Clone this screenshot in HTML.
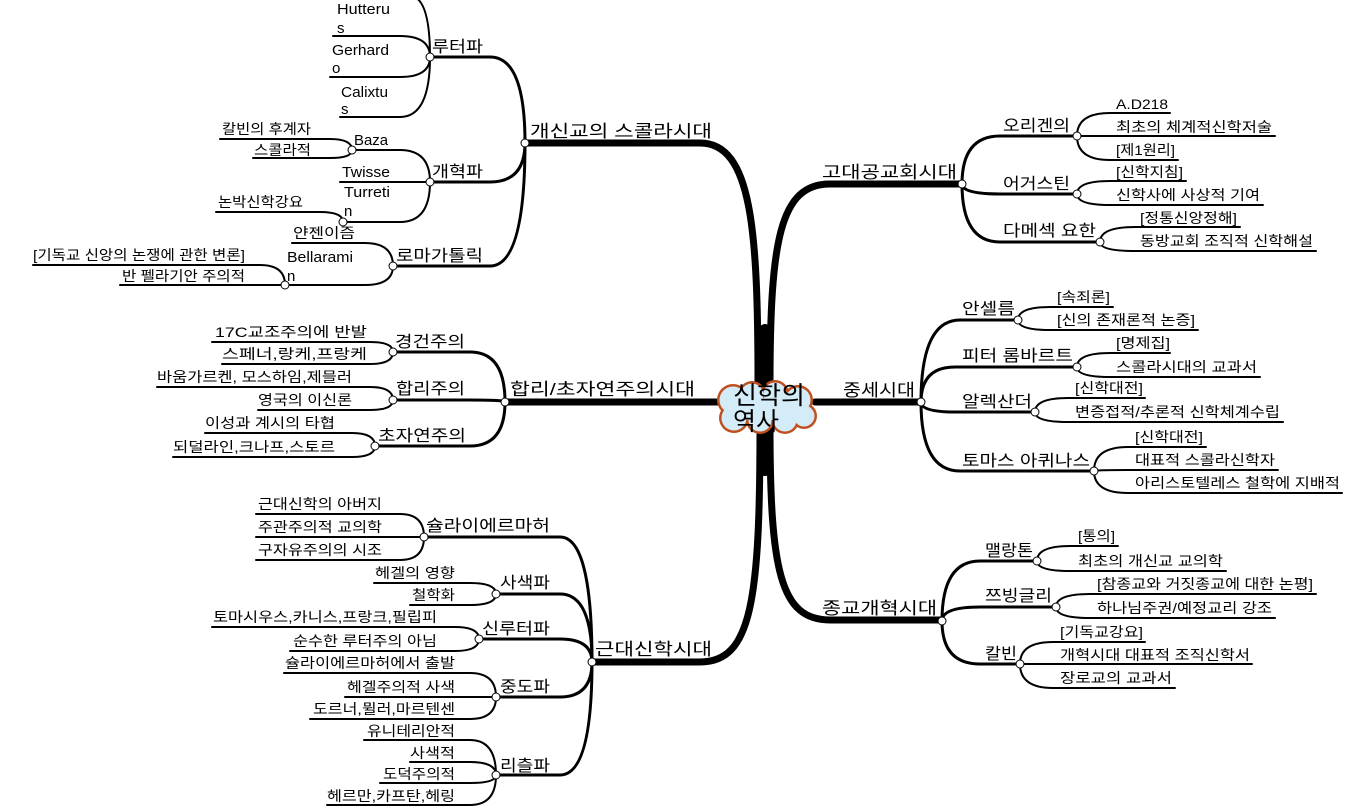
<!DOCTYPE html>
<html><head><meta charset="utf-8"><style>
html,body{margin:0;padding:0;background:#fff;}
svg{display:block;}
text{font-family:"Liberation Sans","Noto Sans CJK KR","NanumGothic",sans-serif;fill:#000;}
.l{font-size:14px;}
.e{font-size:15px;}
.s{font-size:16px;}
.m{font-size:17px;}
path{fill:none;stroke:#000;stroke-linecap:round;}
.t{stroke-width:7;}
.b{stroke-width:3;}
.f{stroke-width:2;}
circle.n{fill:#fff;stroke:#000;stroke-width:1;}
</style></head><body>
<svg width="1368" height="808" viewBox="0 0 1368 808" xmlns="http://www.w3.org/2000/svg">
<path class="t" d="M758 385 C758 230 752 143 700 143 L525 143"/>
<path class="t" d="M770 385 C770 240 780 184 830 184 L962 184"/>
<path class="t" d="M760 425 C760 600 752 662 700 662 L592 662"/>
<path class="t" d="M770 425 C770 570 780 620 830 620 L942 620"/>
<path class="t" d="M718 402 L505 402"/>
<path class="t" d="M815 402 L921 402"/>
<path d="M765 330 L765 470" style="stroke-width:12"/>

<path class="b" d="M525 143 Q525 57 490 57 L430 57"/>
<path class="b" d="M525 143 Q525 182 490 182 L430 182"/>
<path class="b" d="M525 143 Q525 266 490 266 L393 266"/>
<path class="f" d="M430 57 Q430 0 412 -4"/>
<path class="f" d="M430 57 Q430 36 400 36 L333 36"/>
<path class="f" d="M430 57 Q430 77 400 77 L330 77"/>
<path class="f" d="M430 57 Q430 117 400 117 L340 117"/>
<path class="f" d="M430 182 Q430 150 400 150 L352 150"/>
<path class="f" d="M430 182 L340 182"/>
<path class="f" d="M430 182 Q430 222 400 222 L343 222"/>
<path class="f" d="M352 150 Q352 139 330 139 L220 139"/>
<path class="f" d="M352 150 Q352 158 330 158 L253 158"/>
<path class="f" d="M343 222 Q343 212 320 212 L216 212"/>
<path class="f" d="M393 266 Q393 243 365 243 L292 243"/>
<path class="f" d="M393 266 Q393 285 365 285 L285 285"/>
<path class="f" d="M285 285 Q285 265 260 265 L33 265"/>
<path class="f" d="M285 285 L120 285"/>

<path class="b" d="M505 402 Q505 352 470 352 L393 352"/>
<path class="b" d="M505 402 Q505 400 470 400 L393 400"/>
<path class="b" d="M505 402 Q505 446 470 446 L375 446"/>
<path class="f" d="M393 352 Q393 342 370 342 L212 342"/>
<path class="f" d="M393 352 Q393 364 370 364 L222 364"/>
<path class="f" d="M393 400 Q393 387 370 387 L157 387"/>
<path class="f" d="M393 400 Q393 410 370 410 L258 410"/>
<path class="f" d="M375 446 Q375 433 352 433 L205 433"/>
<path class="f" d="M375 446 Q375 457 352 457 L173 457"/>

<path class="b" d="M592 662 Q592 537 560 537 L424 537"/>
<path class="b" d="M592 662 Q592 594 560 594 L496 594"/>
<path class="b" d="M592 662 Q592 639 560 639 L479 639"/>
<path class="b" d="M592 662 Q592 697 560 697 L496 697"/>
<path class="b" d="M592 662 Q592 775 560 775 L496 775"/>
<path class="f" d="M424 537 Q424 514 400 514 L256 514"/>
<path class="f" d="M424 537 L256 537"/>
<path class="f" d="M424 537 Q424 560 400 560 L256 560"/>
<path class="f" d="M496 594 Q496 583 470 583 L374 583"/>
<path class="f" d="M496 594 Q496 605 470 605 L410 605"/>
<path class="f" d="M479 639 Q479 627 455 627 L212 627"/>
<path class="f" d="M479 639 Q479 651 455 651 L290 651"/>
<path class="f" d="M496 697 Q496 673 470 673 L284 673"/>
<path class="f" d="M496 697 L345 697"/>
<path class="f" d="M496 697 Q496 719 470 719 L310 719"/>
<path class="f" d="M496 775 Q496 740 470 740 L364 740"/>
<path class="f" d="M496 775 Q496 762 470 762 L410 762"/>
<path class="f" d="M496 775 Q496 783 470 783 L380 783"/>
<path class="f" d="M496 775 Q496 805 470 805 L327 805"/>

<path class="b" d="M962 184 Q962 136 1000 136 L1077 136"/>
<path class="b" d="M962 184 Q962 194 1000 194 L1077 194"/>
<path class="b" d="M962 184 Q962 242 1000 242 L1100 242"/>
<path class="f" d="M1077 136 Q1077 113 1110 113 L1170 113"/>
<path class="f" d="M1077 136 L1275 136"/>
<path class="f" d="M1077 136 Q1077 160 1110 160 L1178 160"/>
<path class="f" d="M1077 194 Q1077 181 1110 181 L1186 181"/>
<path class="f" d="M1077 194 Q1077 205 1110 205 L1263 205"/>
<path class="f" d="M1100 242 Q1100 227 1135 227 L1240 227"/>
<path class="f" d="M1100 242 Q1100 251 1135 251 L1316 251"/>

<path class="b" d="M921 402 Q921 320 960 320 L1018 320"/>
<path class="b" d="M921 402 Q921 367 955 367 L1077 367"/>
<path class="b" d="M921 402 Q921 412 955 412 L1035 412"/>
<path class="b" d="M921 402 Q921 471 960 471 L1094 471"/>
<path class="f" d="M1018 320 Q1018 307 1050 307 L1113 307"/>
<path class="f" d="M1018 320 Q1018 330 1050 330 L1198 330"/>
<path class="f" d="M1077 367 Q1077 353 1110 353 L1170 353"/>
<path class="f" d="M1077 367 Q1077 377 1110 377 L1260 377"/>
<path class="f" d="M1035 412 Q1035 398 1068 398 L1145 398"/>
<path class="f" d="M1035 412 Q1035 422 1068 422 L1283 422"/>
<path class="f" d="M1094 471 Q1094 447 1128 447 L1206 447"/>
<path class="f" d="M1094 471 Q1094 470 1128 470 L1278 470"/>
<path class="f" d="M1094 471 Q1094 493 1128 493 L1342 493"/>

<path class="b" d="M942 621 Q942 561 980 561 L1037 561"/>
<path class="b" d="M942 621 Q942 607 980 607 L1056 607"/>
<path class="b" d="M942 621 Q942 664 980 664 L1020 664"/>
<path class="f" d="M1037 561 Q1037 546 1070 546 L1118 546"/>
<path class="f" d="M1037 561 Q1037 571 1070 571 L1226 571"/>
<path class="f" d="M1056 607 Q1056 594 1090 594 L1316 594"/>
<path class="f" d="M1056 607 Q1056 618 1090 618 L1275 618"/>
<path class="f" d="M1020 664 Q1020 642 1053 642 L1145 642"/>
<path class="f" d="M1020 664 L1252 664"/>
<path class="f" d="M1020 664 Q1020 688 1053 688 L1175 688"/>

<g>
<circle class="n" cx="525" cy="143" r="4"/><circle class="n" cx="430" cy="57" r="4"/><circle class="n" cx="430" cy="182" r="4"/>
<circle class="n" cx="393" cy="266" r="4"/><circle class="n" cx="352" cy="150" r="4"/><circle class="n" cx="343" cy="222" r="4"/>
<circle class="n" cx="285" cy="285" r="4"/>
<circle class="n" cx="505" cy="402" r="4"/><circle class="n" cx="393" cy="352" r="4"/><circle class="n" cx="393" cy="400" r="4"/><circle class="n" cx="375" cy="446" r="4"/>
<circle class="n" cx="592" cy="662" r="4"/><circle class="n" cx="424" cy="537" r="4"/><circle class="n" cx="496" cy="594" r="4"/><circle class="n" cx="479" cy="639" r="4"/><circle class="n" cx="496" cy="697" r="4"/><circle class="n" cx="496" cy="775" r="4"/>
<circle class="n" cx="962" cy="184" r="4"/><circle class="n" cx="1077" cy="136" r="4"/><circle class="n" cx="1077" cy="194" r="4"/><circle class="n" cx="1100" cy="242" r="4"/>
<circle class="n" cx="921" cy="402" r="4"/><circle class="n" cx="1018" cy="320" r="4"/><circle class="n" cx="1077" cy="367" r="4"/><circle class="n" cx="1035" cy="412" r="4"/><circle class="n" cx="1094" cy="471" r="4"/>
<circle class="n" cx="942" cy="621" r="4"/><circle class="n" cx="1037" cy="561" r="4"/><circle class="n" cx="1056" cy="607" r="4"/><circle class="n" cx="1020" cy="664" r="4"/>
</g>

<g>
<g fill="#c0501f">
<circle cx="733" cy="400" r="16"/><circle cx="752" cy="395" r="14"/><circle cx="775" cy="394" r="14"/><circle cx="798" cy="400" r="15"/>
<circle cx="734" cy="418" r="15"/><circle cx="760" cy="420" r="14"/><circle cx="785" cy="420" r="14"/><circle cx="804" cy="416" r="13"/>
</g>
<g fill="#d3ecf8">
<circle cx="733" cy="400" r="13.5"/><circle cx="752" cy="395" r="11.5"/><circle cx="775" cy="394" r="11.5"/><circle cx="798" cy="400" r="12.5"/>
<circle cx="734" cy="418" r="12.5"/><circle cx="760" cy="420" r="11.5"/><circle cx="785" cy="420" r="11.5"/><circle cx="804" cy="416" r="10.5"/>
<rect x="735" y="398" width="70" height="22"/>
</g>
<text x="733" y="404" style="font-size:25px" textLength="72" lengthAdjust="spacingAndGlyphs">신학의</text>
<text x="733" y="430" style="font-size:25px" textLength="46" lengthAdjust="spacingAndGlyphs">역사</text>
</g>

<text class="m" x="530" y="137" textLength="182" lengthAdjust="spacingAndGlyphs">개신교의 스콜라시대</text>
<text class="m" x="510" y="395" textLength="185" lengthAdjust="spacingAndGlyphs">합리/초자연주의시대</text>
<text class="m" x="595" y="655" textLength="117" lengthAdjust="spacingAndGlyphs">근대신학시대</text>
<text class="m" x="822" y="178" textLength="135" lengthAdjust="spacingAndGlyphs">고대공교회시대</text>
<text class="m" x="843" y="396" textLength="72" lengthAdjust="spacingAndGlyphs">중세시대</text>
<text class="m" x="822" y="614" textLength="115" lengthAdjust="spacingAndGlyphs">종교개혁시대</text>

<text class="s" x="432" y="52" textLength="51" lengthAdjust="spacingAndGlyphs">루터파</text>
<text class="s" x="432" y="177" textLength="51" lengthAdjust="spacingAndGlyphs">개혁파</text>
<text class="s" x="396" y="261" textLength="87" lengthAdjust="spacingAndGlyphs">로마가톨릭</text>
<text class="s" x="395" y="347" textLength="70" lengthAdjust="spacingAndGlyphs">경건주의</text>
<text class="s" x="396" y="394" textLength="69" lengthAdjust="spacingAndGlyphs">합리주의</text>
<text class="s" x="378" y="441" textLength="88" lengthAdjust="spacingAndGlyphs">초자연주의</text>
<text class="s" x="426" y="531" textLength="124" lengthAdjust="spacingAndGlyphs">슐라이에르마허</text>
<text class="s" x="500" y="588" textLength="50" lengthAdjust="spacingAndGlyphs">사색파</text>
<text class="s" x="482" y="634" textLength="68" lengthAdjust="spacingAndGlyphs">신루터파</text>
<text class="s" x="500" y="692" textLength="50" lengthAdjust="spacingAndGlyphs">중도파</text>
<text class="s" x="500" y="771" textLength="50" lengthAdjust="spacingAndGlyphs">리츨파</text>
<text class="s" x="1003" y="131" textLength="67" lengthAdjust="spacingAndGlyphs">오리겐의</text>
<text class="s" x="1003" y="189" textLength="67" lengthAdjust="spacingAndGlyphs">어거스틴</text>
<text class="s" x="1003" y="236" textLength="93" lengthAdjust="spacingAndGlyphs">다메섹 요한</text>
<text class="s" x="962" y="314" textLength="53" lengthAdjust="spacingAndGlyphs">안셀름</text>
<text class="s" x="962" y="361" textLength="111" lengthAdjust="spacingAndGlyphs">피터 롬바르트</text>
<text class="s" x="962" y="407" textLength="70" lengthAdjust="spacingAndGlyphs">알렉산더</text>
<text class="s" x="962" y="466" textLength="128" lengthAdjust="spacingAndGlyphs">토마스 아퀴나스</text>
<text class="s" x="985" y="556" textLength="48" lengthAdjust="spacingAndGlyphs">맬랑톤</text>
<text class="s" x="985" y="601" textLength="67" lengthAdjust="spacingAndGlyphs">쯔빙글리</text>
<text class="s" x="985" y="659" textLength="32" lengthAdjust="spacingAndGlyphs">칼빈</text>

<text class="e" x="337" y="14" textLength="53" lengthAdjust="spacingAndGlyphs">Hutteru</text><text class="e" x="337" y="33">s</text>
<text class="e" x="332" y="55" textLength="57" lengthAdjust="spacingAndGlyphs">Gerhard</text><text class="e" x="332" y="73">o</text>
<text class="e" x="341" y="97" textLength="47" lengthAdjust="spacingAndGlyphs">Calixtu</text><text class="e" x="341" y="114">s</text>
<text class="e" x="354" y="145" textLength="34" lengthAdjust="spacingAndGlyphs">Baza</text>
<text class="e" x="342" y="177" textLength="48" lengthAdjust="spacingAndGlyphs">Twisse</text>
<text class="e" x="344" y="197" textLength="46" lengthAdjust="spacingAndGlyphs">Turreti</text><text class="e" x="344" y="216">n</text>
<text class="e" x="287" y="262" textLength="66" lengthAdjust="spacingAndGlyphs">Bellarami</text><text class="e" x="287" y="281">n</text>
<text class="l" x="222" y="134" textLength="89" lengthAdjust="spacingAndGlyphs">칼빈의 후계자</text>
<text class="l" x="254" y="155" textLength="57" lengthAdjust="spacingAndGlyphs">스콜라적</text>
<text class="l" x="218" y="207" textLength="85" lengthAdjust="spacingAndGlyphs">논박신학강요</text>
<text class="l" x="293" y="238" textLength="62" lengthAdjust="spacingAndGlyphs">얀젠이즘</text>
<text class="l" x="33" y="260" textLength="212" lengthAdjust="spacingAndGlyphs">[기독교 신앙의 논쟁에 관한 변론]</text>
<text class="l" x="122" y="281" textLength="123" lengthAdjust="spacingAndGlyphs">반 펠라기안 주의적</text>

<text class="l" x="215" y="337" textLength="152" lengthAdjust="spacingAndGlyphs">17C교조주의에 반발</text>
<text class="l" x="222" y="359" textLength="145" lengthAdjust="spacingAndGlyphs">스페너,랑케,프랑케</text>
<text class="l" x="157" y="382" textLength="195" lengthAdjust="spacingAndGlyphs">바움가르켄, 모스하임,제믈러</text>
<text class="l" x="258" y="405" textLength="94" lengthAdjust="spacingAndGlyphs">영국의 이신론</text>
<text class="l" x="205" y="428" textLength="130" lengthAdjust="spacingAndGlyphs">이성과 계시의 타협</text>
<text class="l" x="173" y="452" textLength="162" lengthAdjust="spacingAndGlyphs">되덜라인,크나프,스토르</text>

<text class="l" x="258" y="509" textLength="124" lengthAdjust="spacingAndGlyphs">근대신학의 아버지</text>
<text class="l" x="258" y="532" textLength="124" lengthAdjust="spacingAndGlyphs">주관주의적 교의학</text>
<text class="l" x="258" y="555" textLength="124" lengthAdjust="spacingAndGlyphs">구자유주의의 시조</text>
<text class="l" x="375" y="578" textLength="80" lengthAdjust="spacingAndGlyphs">헤겔의 영향</text>
<text class="l" x="412" y="600" textLength="43" lengthAdjust="spacingAndGlyphs">철학화</text>
<text class="l" x="213" y="622" textLength="224" lengthAdjust="spacingAndGlyphs">토마시우스,카니스,프랑크,필립피</text>
<text class="l" x="293" y="646" textLength="144" lengthAdjust="spacingAndGlyphs">순수한 루터주의 아님</text>
<text class="l" x="285" y="668" textLength="170" lengthAdjust="spacingAndGlyphs">슐라이에르마허에서 출발</text>
<text class="l" x="347" y="692" textLength="108" lengthAdjust="spacingAndGlyphs">헤겔주의적 사색</text>
<text class="l" x="313" y="714" textLength="142" lengthAdjust="spacingAndGlyphs">도르너,뮐러,마르텐센</text>
<text class="l" x="367" y="736" textLength="88" lengthAdjust="spacingAndGlyphs">유니테리안적</text>
<text class="l" x="410" y="758" textLength="45" lengthAdjust="spacingAndGlyphs">사색적</text>
<text class="l" x="383" y="779" textLength="72" lengthAdjust="spacingAndGlyphs">도덕주의적</text>
<text class="l" x="327" y="801" textLength="128" lengthAdjust="spacingAndGlyphs">헤르만,카프탄,헤링</text>

<text class="l" x="1116" y="109" textLength="52" lengthAdjust="spacingAndGlyphs">A.D218</text>
<text class="l" x="1116" y="132" textLength="156" lengthAdjust="spacingAndGlyphs">최초의 체계적신학저술</text>
<text class="l" x="1116" y="155" textLength="59" lengthAdjust="spacingAndGlyphs">[제1원리]</text>
<text class="l" x="1116" y="177" textLength="67" lengthAdjust="spacingAndGlyphs">[신학지침]</text>
<text class="l" x="1116" y="200" textLength="144" lengthAdjust="spacingAndGlyphs">신학사에 사상적 기여</text>
<text class="l" x="1140" y="223" textLength="97" lengthAdjust="spacingAndGlyphs">[정통신앙정해]</text>
<text class="l" x="1140" y="246" textLength="173" lengthAdjust="spacingAndGlyphs">동방교회 조직적 신학해설</text>

<text class="l" x="1057" y="302" textLength="53" lengthAdjust="spacingAndGlyphs">[속죄론]</text>
<text class="l" x="1057" y="325" textLength="138" lengthAdjust="spacingAndGlyphs">[신의 존재론적 논증]</text>
<text class="l" x="1116" y="348" textLength="54" lengthAdjust="spacingAndGlyphs">[명제집]</text>
<text class="l" x="1116" y="372" textLength="141" lengthAdjust="spacingAndGlyphs">스콜라시대의 교과서</text>
<text class="l" x="1075" y="393" textLength="68" lengthAdjust="spacingAndGlyphs">[신학대전]</text>
<text class="l" x="1075" y="417" textLength="205" lengthAdjust="spacingAndGlyphs">변증접적/추론적 신학체계수립</text>
<text class="l" x="1135" y="442" textLength="68" lengthAdjust="spacingAndGlyphs">[신학대전]</text>
<text class="l" x="1135" y="465" textLength="140" lengthAdjust="spacingAndGlyphs">대표적 스콜라신학자</text>
<text class="l" x="1135" y="488" textLength="205" lengthAdjust="spacingAndGlyphs">아리스토텔레스 철학에 지배적</text>

<text class="l" x="1078" y="541" textLength="37" lengthAdjust="spacingAndGlyphs">[통의]</text>
<text class="l" x="1078" y="566" textLength="145" lengthAdjust="spacingAndGlyphs">최초의 개신교 교의학</text>
<text class="l" x="1097" y="589" textLength="216" lengthAdjust="spacingAndGlyphs">[참종교와 거짓종교에 대한 논평]</text>
<text class="l" x="1097" y="613" textLength="175" lengthAdjust="spacingAndGlyphs">하나님주권/예정교리 강조</text>
<text class="l" x="1060" y="637" textLength="83" lengthAdjust="spacingAndGlyphs">[기독교강요]</text>
<text class="l" x="1060" y="660" textLength="190" lengthAdjust="spacingAndGlyphs">개혁시대 대표적 조직신학서</text>
<text class="l" x="1060" y="683" textLength="112" lengthAdjust="spacingAndGlyphs">장로교의 교과서</text>
</svg>
</body></html>
